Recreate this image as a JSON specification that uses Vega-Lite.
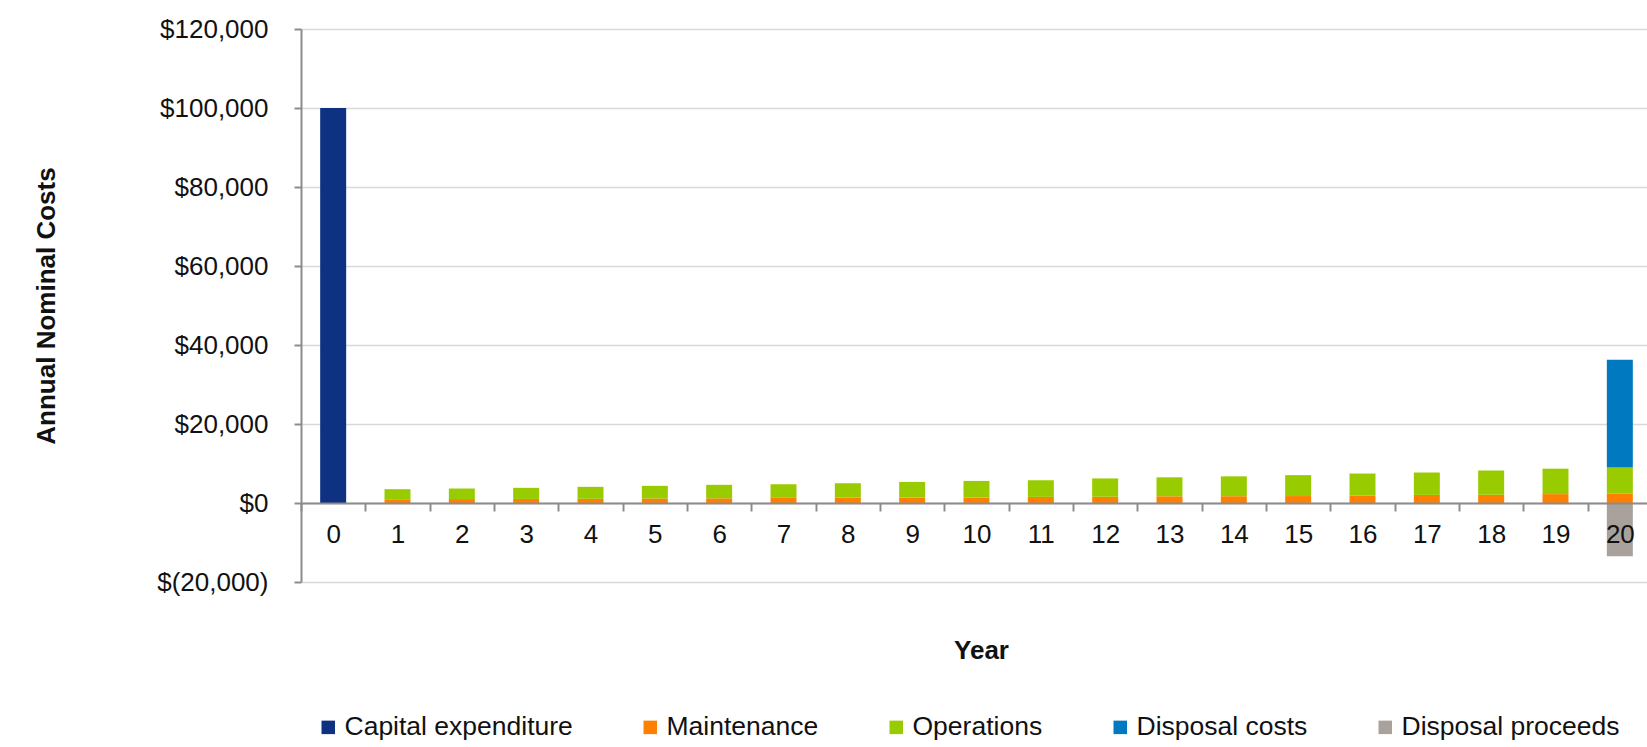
{
  "$schema": "https://vega.github.io/schema/vega-lite/v6.json",
  "autosize": {"type": "none"},
  "width": 1346,
  "height": 553,
  "padding": {"left": 301, "top": 29, "right": 0, "bottom": 165},
  "background": "white",
  "config": {
    "view": {"stroke": null},
    "font": "Liberation Sans"
  },
  "data": {
    "values": [
      {"year": 0, "category": "Capital expenditure", "cost": 100000},
      {"year": 1, "category": "Maintenance", "cost": 950},
      {"year": 1, "category": "Operations", "cost": 2550},
      {"year": 2, "category": "Maintenance", "cost": 1000},
      {"year": 2, "category": "Operations", "cost": 2670},
      {"year": 3, "category": "Maintenance", "cost": 1030},
      {"year": 3, "category": "Operations", "cost": 2810},
      {"year": 4, "category": "Maintenance", "cost": 1060},
      {"year": 4, "category": "Operations", "cost": 3030},
      {"year": 5, "category": "Maintenance", "cost": 1150},
      {"year": 5, "category": "Operations", "cost": 3190},
      {"year": 6, "category": "Maintenance", "cost": 1180},
      {"year": 6, "category": "Operations", "cost": 3420},
      {"year": 7, "category": "Maintenance", "cost": 1300},
      {"year": 7, "category": "Operations", "cost": 3450},
      {"year": 8, "category": "Maintenance", "cost": 1340},
      {"year": 8, "category": "Operations", "cost": 3660},
      {"year": 9, "category": "Maintenance", "cost": 1380},
      {"year": 9, "category": "Operations", "cost": 3950},
      {"year": 10, "category": "Maintenance", "cost": 1400},
      {"year": 10, "category": "Operations", "cost": 4190},
      {"year": 11, "category": "Maintenance", "cost": 1540},
      {"year": 11, "category": "Operations", "cost": 4220},
      {"year": 12, "category": "Maintenance", "cost": 1580},
      {"year": 12, "category": "Operations", "cost": 4640},
      {"year": 13, "category": "Maintenance", "cost": 1700},
      {"year": 13, "category": "Operations", "cost": 4800},
      {"year": 14, "category": "Maintenance", "cost": 1720},
      {"year": 14, "category": "Operations", "cost": 5030},
      {"year": 15, "category": "Maintenance", "cost": 1760},
      {"year": 15, "category": "Operations", "cost": 5290},
      {"year": 16, "category": "Maintenance", "cost": 1900},
      {"year": 16, "category": "Operations", "cost": 5560},
      {"year": 17, "category": "Maintenance", "cost": 2050},
      {"year": 17, "category": "Operations", "cost": 5670},
      {"year": 18, "category": "Maintenance", "cost": 2080},
      {"year": 18, "category": "Operations", "cost": 6150},
      {"year": 19, "category": "Maintenance", "cost": 2250},
      {"year": 19, "category": "Operations", "cost": 6440},
      {"year": 20, "category": "Maintenance", "cost": 2420},
      {"year": 20, "category": "Operations", "cost": 6560},
      {"year": 20, "category": "Disposal costs", "cost": 27300},
      {"year": 20, "category": "Disposal proceeds", "cost": -13500}
    ]
  },
  "mark": {"type": "bar", "width": {"band": 0.404}},
  "encoding": {
    "x": {
      "field": "year",
      "type": "ordinal",
      "scale": {"range": [0, 1351], "paddingInner": 0, "paddingOuter": 0},
      "axis": {
        "title": "Year",
        "titleX": 680,
        "offset": -79,
        "zindex": 1,
        "grid": false,
        "domainColor": "#8C8C8C",
        "domainWidth": 2,
        "tickColor": "#8C8C8C",
        "tickWidth": 2,
        "tickSize": 8,
        "tickBand": "extent",
        "labelAngle": 0,
        "labelFontSize": 26,
        "labelColor": "#111111",
        "labelPadding": 10,
        "titleFontSize": 26,
        "titleFontWeight": "bold",
        "titleColor": "#111111",
        "titlePadding": 90
      }
    },
    "y": {
      "field": "cost",
      "type": "quantitative",
      "stack": "zero",
      "scale": {"domain": [-20000, 120000], "nice": false},
      "axis": {
        "title": "Annual Nominal Costs",
        "values": [-20000, 0, 20000, 40000, 60000, 80000, 100000, 120000],
        "labelExpr": "datum.value < 0 ? '$(' + format(-datum.value, ',') + ')' : '$' + format(datum.value, ',')",
        "grid": true,
        "gridColor": "#D9D9D9",
        "gridWidth": 1.5,
        "domainColor": "#8C8C8C",
        "domainWidth": 2,
        "tickColor": "#8C8C8C",
        "tickWidth": 2,
        "tickSize": 7,
        "labelFontSize": 26,
        "labelColor": "#111111",
        "labelPadding": 26,
        "titleFontSize": 26,
        "titleFontWeight": "bold",
        "titleColor": "#111111",
        "titlePadding": 97
      }
    },
    "order": {"field": "cost", "type": "quantitative", "sort": "ascending"},
    "color": {
      "field": "category",
      "type": "nominal",
      "sort": ["Capital expenditure", "Maintenance", "Operations", "Disposal costs", "Disposal proceeds"],
      "scale": {
        "domain": ["Capital expenditure", "Maintenance", "Operations", "Disposal costs", "Disposal proceeds"],
        "range": ["#0E3281", "#FF8000", "#99CC00", "#0079C1", "#A8A19C"]
      },
      "legend": {
        "orient": "none",
        "legendX": 14,
        "legendY": 685,
        "direction": "horizontal",
        "title": null,
        "symbolType": "square",
        "symbolSize": 182,
        "symbolStrokeWidth": 0,
        "labelFontSize": 26.5,
        "labelLimit": 400,
        "labelColor": "#111111",
        "labelOffset": 3,
        "columnPadding": 64
      }
    }
  }
}
